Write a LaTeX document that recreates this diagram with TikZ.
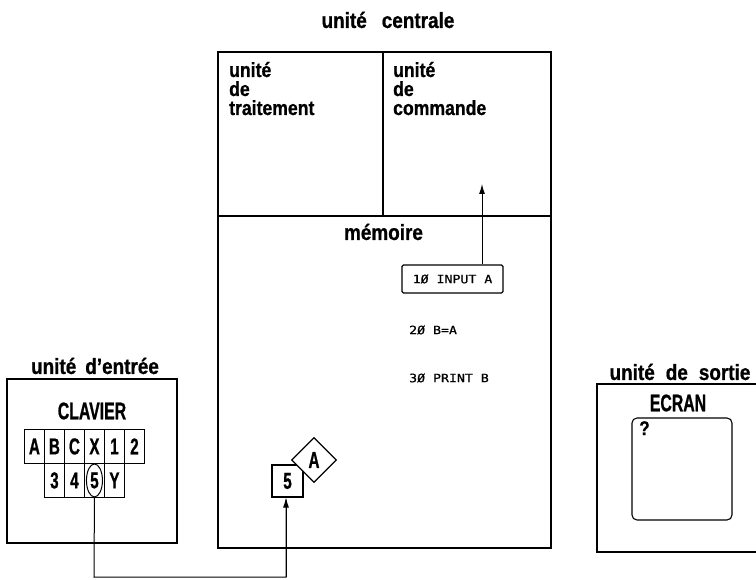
\documentclass[tikz,border=0pt]{standalone}
\usepackage{fontspec}
\setmainfont{Liberation Sans}
\newfontfamily\lab{Liberation Sans Bold}[FakeStretch=0.86,FakeBold=0.8]
\newfontfamily\cond{Liberation Sans Bold}[FakeStretch=0.66,FakeBold=0.8]
\newfontfamily\code{DejaVu Sans Mono}[FakeStretch=1.15,FakeBold=0.7]
\usetikzlibrary{arrows.meta,shapes.geometric}
\begin{document}
\begin{tikzpicture}[x=1pt,y=-1pt,
  frame/.style={draw,line width=1.1pt},
  title/.style={font=\lab\fontsize{22}{22}\selectfont,inner sep=0pt},
  sublabel/.style={font=\lab\fontsize{20.5}{20}\selectfont,anchor=base west,inner sep=0pt},
  capt/.style={font=\cond\fontsize{24}{24}\selectfont,inner sep=0pt},
  key/.style={draw,line width=0.9pt,minimum width=20pt,minimum height=34pt,inner sep=0pt,anchor=north west,font=\cond\fontsize{23}{23}\selectfont},
  codeline/.style={font=\code\fontsize{11.5}{12}\selectfont,inner sep=0pt},
  arr/.style={line width=1pt,-{Latex[length=10pt,width=6pt]}},
  wire/.style={line width=1pt}]
\useasboundingbox (0,0) rectangle (756,580);
\begin{scope}
\clip (0,0) rectangle (756,580);
% central unit
\node[title] (tcentral) at (388,20) {unité\hspace{15pt}centrale};
\draw[frame] (218,52) rectangle (551,548);
\draw[frame] (383,52) -- (383,216);
\draw[frame] (218,216) -- (551,216);
\node[sublabel] (trait1) at (229,77) {unité};
\node[sublabel] (trait2) at (229,96) {de};
\node[sublabel] (trait3) at (229,115) {traitement};
\node[sublabel] (comm1) at (393,77) {unité};
\node[sublabel] (comm2) at (393,96) {de};
\node[sublabel] (comm3) at (393,115) {commande};
\coordinate (commin) at (482,184);
\node[title] (mem) at (383.5,232) {mémoire};
\node[codeline,draw,line width=1.1pt,minimum width=101pt,minimum height=28pt,rounded corners=1.5pt] (l10) at (452.5,279) {1Ø INPUT A};
\node[codeline,anchor=west] (l20) at (409,330) {2Ø B=A};
\node[codeline,anchor=west] (l30) at (409,378) {3Ø PRINT B};
\draw[arr] (l10.north -| commin) -- (commin);
\node[draw,line width=1.1pt,minimum width=31pt,minimum height=32pt,inner sep=0pt,font=\cond\fontsize{23}{23}\selectfont] (box5) at (287.5,481) {5};
\node[diamond,draw,fill=white,line width=1.1pt,minimum width=45pt,minimum height=45pt,inner sep=0pt,font=\cond\fontsize{23}{23}\selectfont] (boxA) at (314,460) {A};
% input unit
\node[title] (tin) at (95,366) {unité\hspace{9pt}d’entrée};
\draw[frame] (7,379) rectangle (177,543);
\node[capt] (clavier) at (92,411) {CLAVIER};
\node[key] (kA) at (24,429) {A};
\node[key] (kB) at (44,429) {B};
\node[key] (kC) at (64,429) {C};
\node[key] (kX) at (84,429) {X};
\node[key] (k1) at (104,429) {1};
\node[key] (k2) at (124,429) {2};
\node[key] (k3) at (44,463) {3};
\node[key] (k4) at (64,463) {4};
\node[key] (k5) at (84,463) {5};
\node[key] (kY) at (104,463) {Y};
\node[draw,ellipse,line width=1pt,minimum width=16pt,minimum height=33pt,inner sep=0pt] (sel) at (k5.center) {};
\coordinate (c1) at (94,577);
\coordinate (c2) at (286,577);
\draw[wire] (sel.south) -- (c1) -- (c2) -- ([yshift=-2pt]c2 |- box5.south);
\draw[arr] (c2) -- (c2 |- box5.south);
% output unit
\node[title] (tout) at (680,372) {unité\hspace{11pt}de\hspace{11pt}sortie};
\draw[frame] (597,384) rectangle (770,552);
\node[capt] (ecran) at (678,403) {ECRAN};
\draw[frame,rounded corners=5pt] (632,418) rectangle (732,520);
\node[font=\lab\fontsize{20}{20}\selectfont,inner sep=0pt,anchor=north west] (q) at (639,421) {?};
\end{scope}
\end{tikzpicture}
\end{document}
